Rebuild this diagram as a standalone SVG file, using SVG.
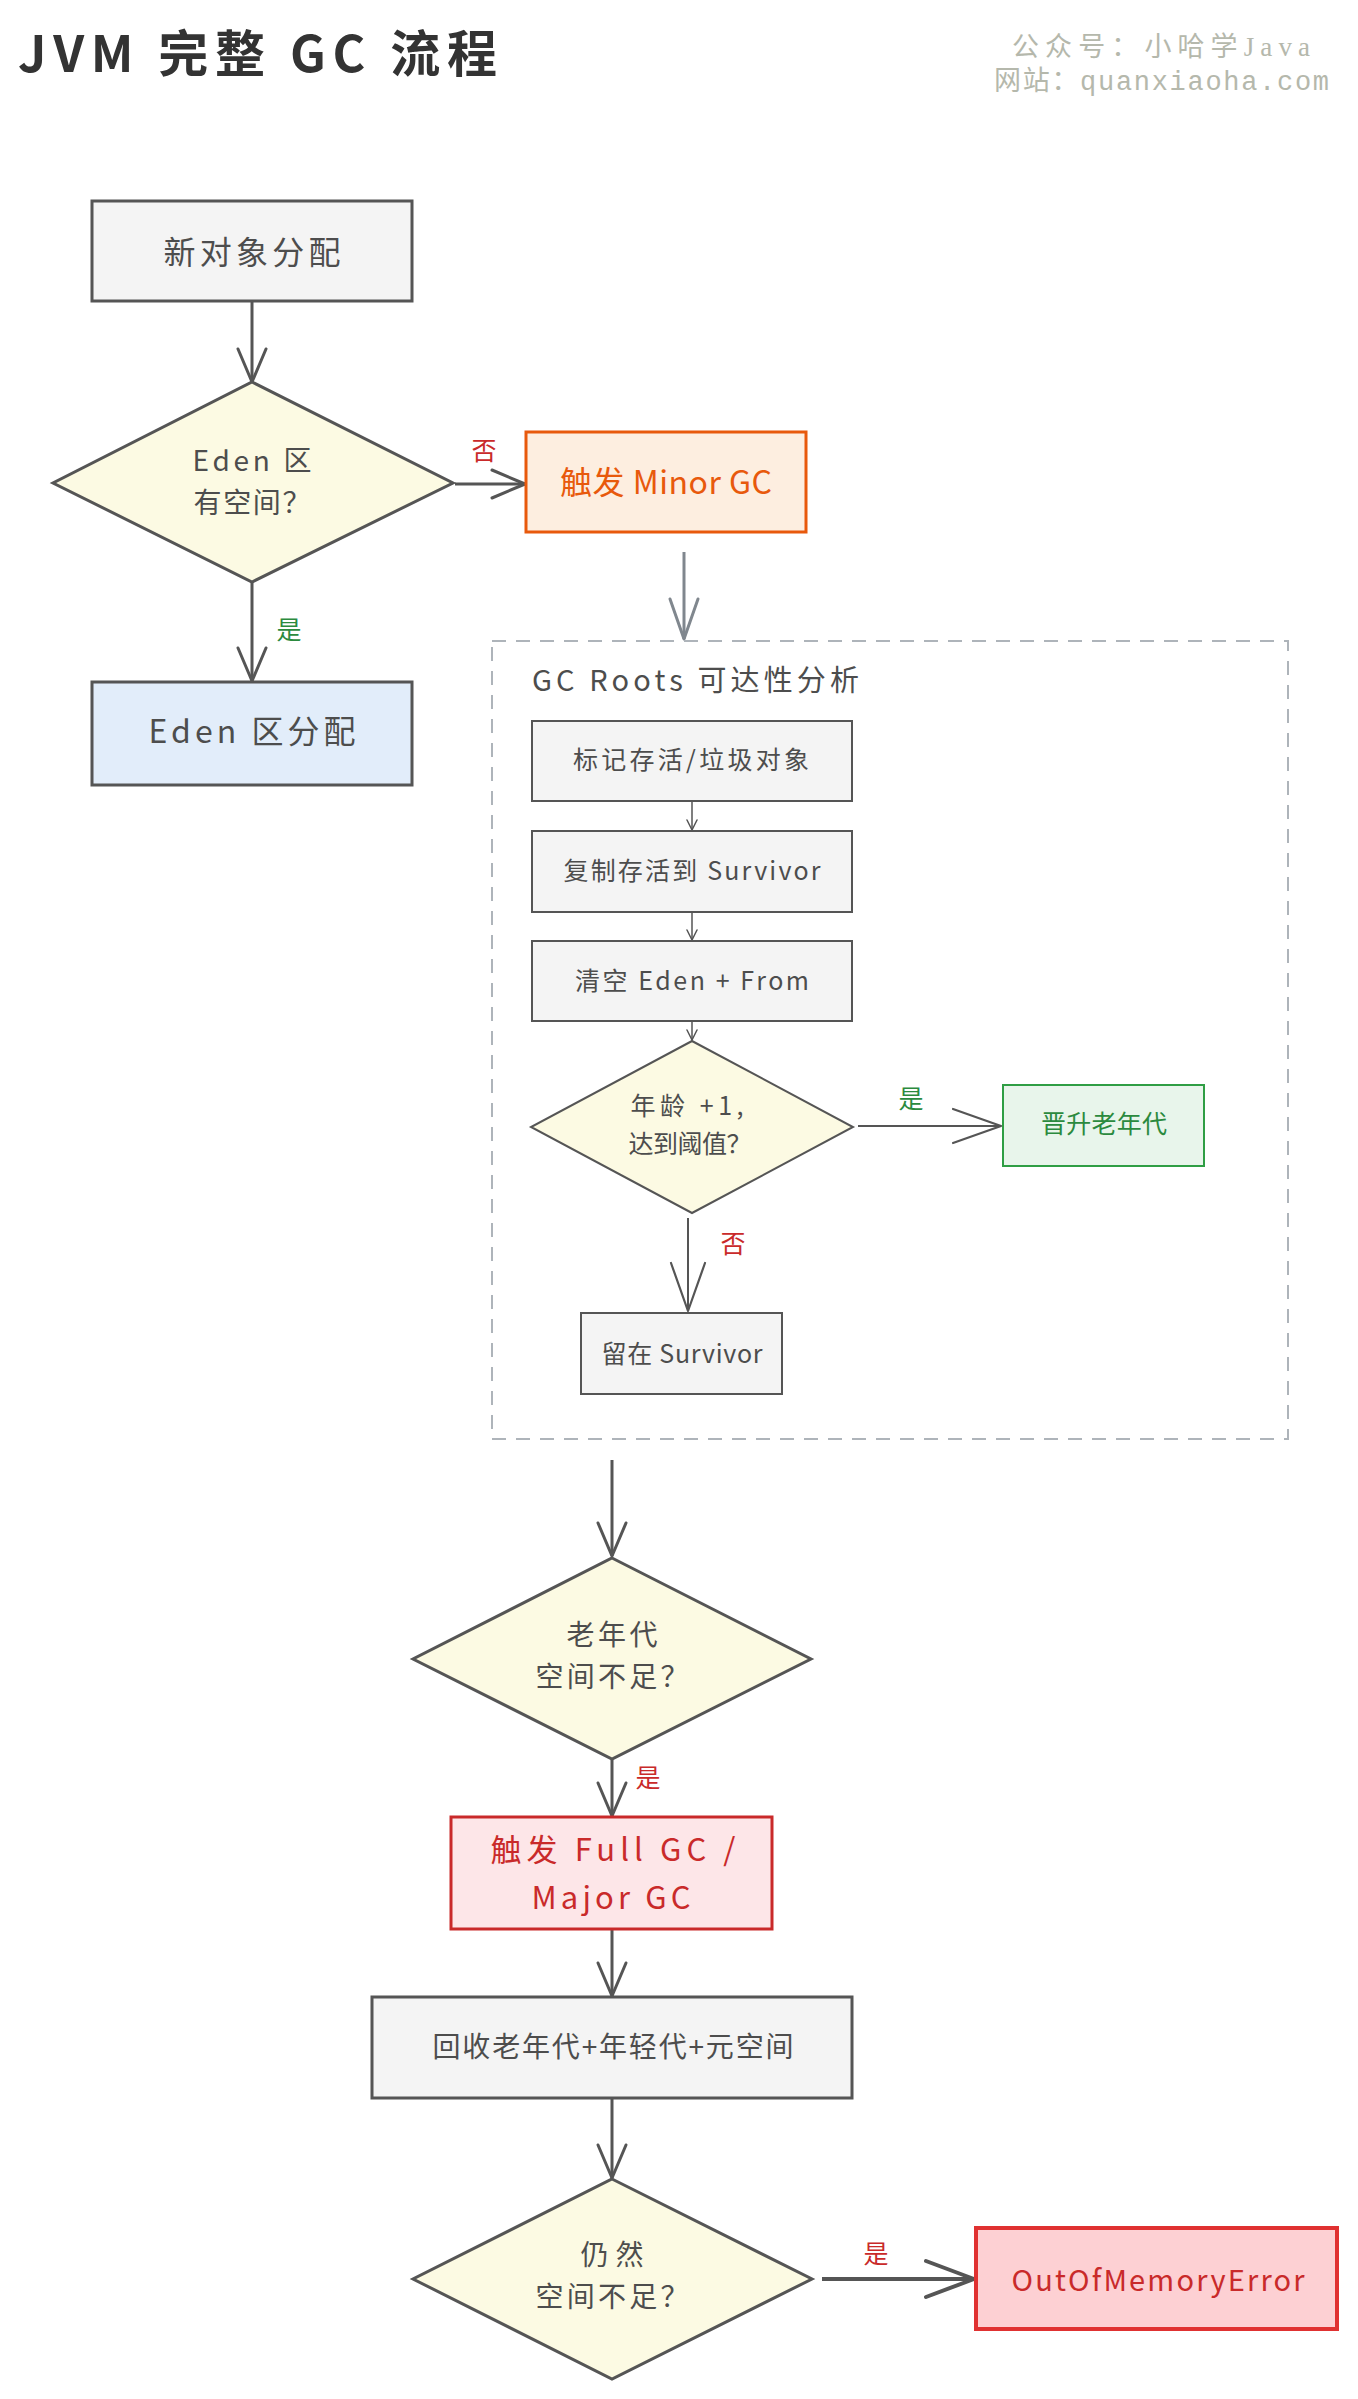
<svg xmlns="http://www.w3.org/2000/svg" width="1358" height="2399" viewBox="0 0 1358 2399">
<style>
text{font-family:"Noto Sans CJK SC","Noto Sans",sans-serif;text-anchor:middle;dominant-baseline:central;fill:#4d4d4d}
.box{fill:#f4f4f4;stroke:#555;stroke-width:3}
.ibox{fill:#f4f4f4;stroke:#555;stroke-width:2}
.dia{fill:#fcfae3;stroke:#555;stroke-width:3}
.main{font-size:32px}
.dt{font-size:28px}
.inner{font-size:25px}
.lbl{font-size:25px}
.red{fill:#c92a2a}
.green{fill:#2b8a3e}
.ln{fill:none;stroke:#555;stroke-width:3}
.ln2{fill:none;stroke:#555;stroke-width:2}
.ln1{fill:none;stroke:#555;stroke-width:1.5}
</style>
<defs>
<marker id="ah" markerUnits="userSpaceOnUse" markerWidth="40" markerHeight="34" viewBox="0 0 40 34" refX="37" refY="17" orient="auto"><path d="M4,3 L37,17 L4,31" fill="none" stroke="#555" stroke-width="3" stroke-linecap="round" stroke-linejoin="round"/></marker>
<marker id="ahg" markerUnits="userSpaceOnUse" markerWidth="46" markerHeight="34" viewBox="0 0 46 34" refX="43" refY="17" orient="auto"><path d="M3,3 L43,17 L3,31" fill="none" stroke="#80878e" stroke-width="3" stroke-linecap="round" stroke-linejoin="round"/></marker>
<marker id="ahs" markerUnits="userSpaceOnUse" markerWidth="14" markerHeight="12" viewBox="0 0 14 12" refX="12" refY="6" orient="auto"><path d="M2,1 L12,6 L2,11" fill="none" stroke="#555" stroke-width="1.5" stroke-linecap="round" stroke-linejoin="round"/></marker>
<marker id="ahl" markerUnits="userSpaceOnUse" markerWidth="54" markerHeight="40" viewBox="0 0 54 40" refX="51" refY="20" orient="auto"><path d="M3,3 L51,20 L3,37" fill="none" stroke="#555" stroke-width="2.2" stroke-linecap="round" stroke-linejoin="round"/></marker>
<marker id="ahx" markerUnits="userSpaceOnUse" markerWidth="56" markerHeight="42" viewBox="0 0 56 42" refX="52" refY="21" orient="auto"><path d="M4,3 L52,21 L4,39" fill="none" stroke="#555" stroke-width="4" stroke-linecap="round" stroke-linejoin="round"/></marker>
</defs>

<g id="header">
<text x="18" y="50" style="font-size:50px;font-weight:bold;text-anchor:start;fill:#333" textLength="479" lengthAdjust="spacing">JVM 完整 GC 流程</text>
<text x="1012" y="47" style="font-family:'Liberation Serif','Noto Sans CJK SC',serif;font-size:27px;text-anchor:start;fill:#b5b8ac" textLength="298" lengthAdjust="spacing">公众号：小哈学Java</text>
<text x="994" y="83" style="font-family:'Liberation Mono','Noto Sans CJK SC',monospace;font-size:27px;text-anchor:start;fill:#b5b8ac" textLength="335" lengthAdjust="spacing">网站：quanxiaoha.com</text>
</g>

<g id="connectors">
<line class="ln" x1="252" y1="302" x2="252" y2="382" marker-end="url(#ah)"/>
<line class="ln" x1="455" y1="484" x2="525" y2="484" marker-end="url(#ah)"/>
<line class="ln" x1="252" y1="582" x2="252" y2="681" marker-end="url(#ah)"/>
<line x1="684" y1="552" x2="684" y2="639" fill="none" stroke="#80878e" stroke-width="3" marker-end="url(#ahg)"/>
<line class="ln1" x1="692" y1="802" x2="692" y2="830" marker-end="url(#ahs)"/>
<line class="ln1" x1="692" y1="913" x2="692" y2="940" marker-end="url(#ahs)"/>
<line class="ln1" x1="692" y1="1022" x2="692" y2="1040" marker-end="url(#ahs)"/>
<line class="ln2" x1="858" y1="1126" x2="1001" y2="1126" marker-end="url(#ahl)"/>
<line class="ln2" x1="688" y1="1218" x2="688" y2="1311" marker-end="url(#ahl)"/>
<line class="ln" x1="612" y1="1460" x2="612" y2="1556" marker-end="url(#ah)"/>
<line class="ln" x1="612" y1="1760" x2="612" y2="1816" marker-end="url(#ah)"/>
<line class="ln" x1="612" y1="1930" x2="612" y2="1996" marker-end="url(#ah)"/>
<line class="ln" x1="612" y1="2099" x2="612" y2="2178" marker-end="url(#ah)"/>
<line x1="822" y1="2279" x2="974" y2="2279" fill="none" stroke="#555" stroke-width="4" marker-end="url(#ahx)"/>
<text class="lbl red" x="484" y="449">否</text>
<text class="lbl green" x="289" y="628">是</text>
<text class="lbl green" x="911" y="1097">是</text>
<text class="lbl red" x="733" y="1242">否</text>
<text class="lbl red" x="648" y="1776">是</text>
<text class="lbl red" x="876" y="2252">是</text>
</g>

<g id="n-new">
<rect class="box" x="92" y="201" width="320" height="100"/>
<text class="main" x="252" y="250" textLength="177" lengthAdjust="spacing">新对象分配</text>
</g>

<g id="n-eden-check">
<polygon class="dia" points="252,382 453,483 252,582 53,483"/>
<text class="dt" x="252" y="459" textLength="119" lengthAdjust="spacing">Eden 区</text>
<text class="dt" x="252" y="501" textLength="117" lengthAdjust="spacing">有空间？</text>
</g>

<g id="n-minor">
<rect x="526" y="432" width="280" height="100" style="fill:#fdeee0;stroke:#e8590c;stroke-width:3"/>
<text class="main" x="666" y="480" style="fill:#e8590c" textLength="212" lengthAdjust="spacing">触发 Minor GC</text>
</g>

<g id="n-eden-alloc">
<rect x="92" y="682" width="320" height="103" style="fill:#e2edfa;stroke:#555;stroke-width:3"/>
<text class="main" x="252" y="729" textLength="207" lengthAdjust="spacing">Eden 区分配</text>
</g>

<g id="n-gcroots">
<rect x="492" y="641" width="796" height="798" style="fill:none;stroke:#aeb4ba;stroke-width:2;stroke-dasharray:14 10"/>
<text x="532" y="678" style="font-size:29px;text-anchor:start" textLength="327" lengthAdjust="spacing">GC Roots 可达性分析</text>
</g>

<g id="n-mark">
<rect class="ibox" x="532" y="721" width="320" height="80"/>
<text class="inner" x="691" y="758" textLength="236" lengthAdjust="spacing">标记存活/垃圾对象</text>
</g>

<g id="n-copy">
<rect class="ibox" x="532" y="831" width="320" height="81"/>
<text class="inner" x="692" y="869" textLength="257" lengthAdjust="spacing">复制存活到 Survivor</text>
</g>

<g id="n-clear">
<rect class="ibox" x="532" y="941" width="320" height="80"/>
<text class="inner" x="692" y="979" textLength="234" lengthAdjust="spacing">清空 Eden + From</text>
</g>

<g id="n-age">
<polygon points="692,1041 853,1127 692,1213 531,1127" style="fill:#fcfae3;stroke:#555;stroke-width:2"/>
<text class="inner" x="687" y="1104" textLength="113" lengthAdjust="spacing">年龄 +1,</text>
<text class="inner" x="690" y="1142" textLength="123" lengthAdjust="spacing">达到阈值？</text>
</g>

<g id="n-promote">
<rect x="1003" y="1085" width="201" height="81" style="fill:#e8f5eb;stroke:#2f9e44;stroke-width:2"/>
<text class="inner green" x="1104" y="1122" textLength="126" lengthAdjust="spacing">晋升老年代</text>
</g>

<g id="n-stay">
<rect class="ibox" x="581" y="1313" width="201" height="81"/>
<text class="inner" x="682" y="1352" textLength="161" lengthAdjust="spacing">留在 Survivor</text>
</g>

<g id="n-old-check">
<polygon class="dia" points="612,1558 811,1659 612,1759 413,1659"/>
<text class="dt" x="612" y="1633" textLength="91" lengthAdjust="spacing">老年代</text>
<text class="dt" x="612" y="1675" textLength="153" lengthAdjust="spacing">空间不足？</text>
</g>

<g id="n-full">
<rect x="451" y="1817" width="321" height="112" style="fill:#fde6e8;stroke:#c92a2a;stroke-width:3"/>
<text class="main red" x="613" y="1847" style="font-size:31px" textLength="245" lengthAdjust="spacing">触发 Full GC /</text>
<text class="main red" x="611" y="1895" style="font-size:31px" textLength="159" lengthAdjust="spacing">Major GC</text>
</g>

<g id="n-reclaim">
<rect class="box" x="372" y="1997" width="480" height="101"/>
<text class="main" x="613" y="2045" style="font-size:28px" textLength="361" lengthAdjust="spacing">回收老年代+年轻代+元空间</text>
</g>

<g id="n-still">
<polygon class="dia" points="612,2179 812,2279 612,2379 413,2279"/>
<text class="dt" x="612" y="2253" textLength="63" lengthAdjust="spacing">仍然</text>
<text class="dt" x="612" y="2295" textLength="153" lengthAdjust="spacing">空间不足？</text>
</g>

<g id="n-oom">
<rect x="976" y="2228" width="361" height="101" style="fill:#fdd0d3;stroke:#e03131;stroke-width:4"/>
<text class="main red" x="1158" y="2278" style="font-size:29px" textLength="293" lengthAdjust="spacing">OutOfMemoryError</text>
</g>
</svg>
